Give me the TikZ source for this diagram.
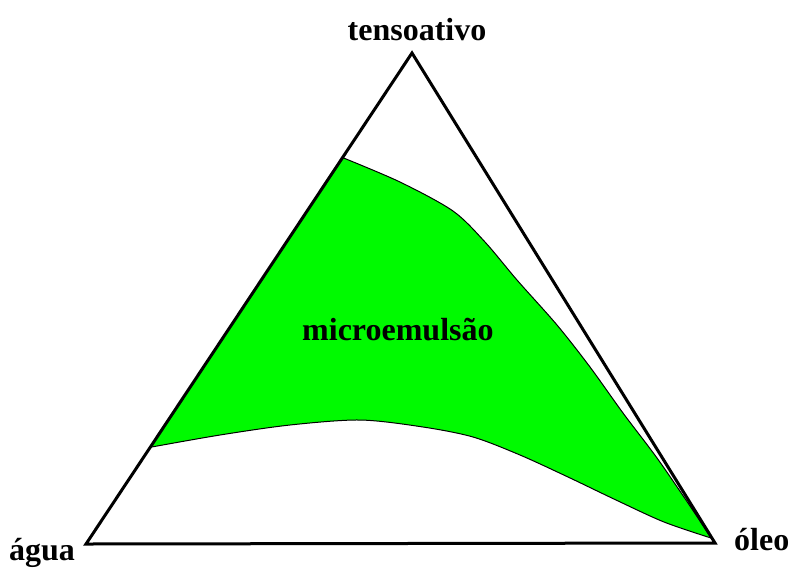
\documentclass[tikz,border=0pt]{standalone}
\usepackage{fontspec}
\setmainfont{Liberation Serif}
\usetikzlibrary{calc}
\definecolor{microgreen}{RGB}{0,250,0}
\begin{document}
\begin{tikzpicture}[
    x=1pt, y=-1pt,
    vertex/.style={font=\fontsize{32}{32}\selectfont\bfseries, inner sep=0pt},
    region/.style={fill=microgreen, draw=black, line width=1pt},
    side/.style={draw=black, line width=3pt, line join=miter}
]
\useasboundingbox (0,0) rectangle (794,568);

% Corners of the diagram
\coordinate (apex) at (412,53);
\coordinate (water) at (86,544);
\coordinate (oil) at (715,543);

% Microemulsion region
\coordinate (rtop) at ($(apex)!0.213!(water)$);
\coordinate (rleft) at ($(apex)!0.803!(water)$);
\coordinate (rtip) at (711,538);
\path[region] (rtop)
    -- plot[smooth, tension=0.5] coordinates {(rtop) (400,182) (453,211) (485,242) (517,280)
        (557,325) (590,367) (623,413) (657,458) (690,506) (rtip)}
    -- plot[smooth, tension=0.5] coordinates {(rtip) (664,522) (616,500) (568,477) (520,455)
        (473,437) (423,427) (360,420) (290,425) (220,435) (rleft)}
    -- cycle;

% Triangle
\draw[side] (water) -- (apex) -- (oil) -- cycle;

% Labels
\node[vertex, anchor=base] (tenso) at (417,40) {tensoativo};
\node[vertex, anchor=base west] (agua) at (9,560) {água};
\node[vertex, anchor=base west] (oleo) at (734,550) {óleo};
\node[vertex, anchor=base west] (micro) at (302,340) {microemulsão};

\end{tikzpicture}
\end{document}
